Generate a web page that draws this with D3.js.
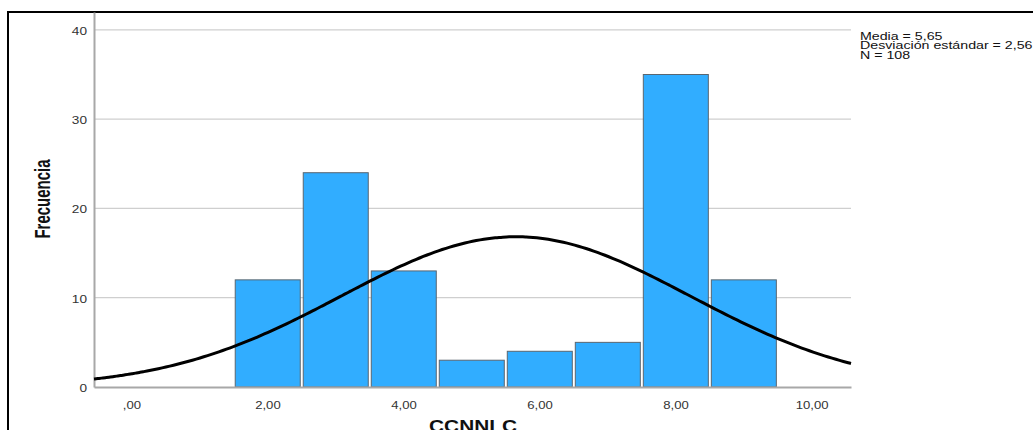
<!DOCTYPE html>
<html><head><meta charset="utf-8">
<script src="https://cdn.jsdelivr.net/npm/d3@7"></script>
<style>
html,body{margin:0;padding:0;background:#fff;}
svg{display:block;font-family:"Liberation Sans",Arial,sans-serif;}
</style></head>
<body>
<svg id="chart" width="1033" height="430"></svg>
<script>
// ---- data ----
const binCenters = [2, 3, 4, 5, 6, 7, 8, 9];
const counts = [12, 24, 13, 3, 4, 5, 35, 12];
const binWidth = 1;
const xTickValues = [0, 2, 4, 6, 8, 10];
const xTickLabels = [",00", "2,00", "4,00", "6,00", "8,00", "10,00"];
const yTickValues = [0, 10, 20, 30, 40];
const yTickLabels = ["0", "10", "20", "30", "40"];
const statsLines = ["Media = 5,65", "Desviación estándar = 2,56", "N = 108"];
const meanVal = 5.65, sdVal = 2.56, nVal = 108;
const xTitle = "CCNNLC", yTitle = "Frecuencia";

const svg = d3.select("#chart");
function stretch(sel, f) {
  sel.each(function () {
    const L = this.getComputedTextLength();
    d3.select(this).attr("textLength", L * f).attr("lengthAdjust", "spacingAndGlyphs");
  });
}

// outer frame
svg.append("rect").attr("x", 8).attr("y", 12).attr("width", 1040).attr("height", 440)
  .attr("fill", "none").attr("stroke", "#000").attr("stroke-width", 2);

const x = d3.scaleLinear().domain([-0.55, 10.58]).range([94, 851]);
const y = d3.scaleLinear().domain([0, 42]).range([387, 12]);

// gridlines
svg.append("g").selectAll("line").data(yTickValues.filter(d => d > 0)).join("line")
  .attr("x1", x.range()[0]).attr("x2", x.range()[1])
  .attr("y1", d => y(d)).attr("y2", d => y(d))
  .attr("stroke", "#cfcfcf").attr("stroke-width", 1.2);

// bars
svg.append("g").selectAll("rect").data(binCenters).join("rect")
  .attr("x", d => x(d - binWidth / 2) + 1.8)
  .attr("y", (d, i) => y(counts[i]))
  .attr("width", d => x(d + binWidth / 2) - x(d - binWidth / 2) - 3)
  .attr("height", (d, i) => y(0) - y(counts[i]))
  .attr("fill", "#31adff").attr("stroke", "#5a6670").attr("stroke-width", 1);

// axes
const xAxis = svg.append("g").attr("transform", `translate(0,${y(0)})`)
  .call(d3.axisBottom(x).tickValues(xTickValues).tickFormat((d, i) => xTickLabels[i]).tickSize(0).tickPadding(15));
xAxis.select(".domain").attr("stroke", "#a8a8a8").attr("stroke-width", 2);
xAxis.selectAll("text").attr("font-size", 10.5).attr("fill", "#333").attr("font-family", "Liberation Sans, Arial, sans-serif");

const yAxis = svg.append("g").attr("transform", `translate(${x.range()[0]},0)`)
  .call(d3.axisLeft(y).tickValues(yTickValues).tickFormat((d, i) => yTickLabels[i]).tickSize(0).tickPadding(7));
yAxis.select(".domain").attr("stroke", "#a8a8a8").attr("stroke-width", 2);
yAxis.selectAll("text").attr("font-size", 10.5).attr("fill", "#333").attr("dy", "0.42em").attr("font-family", "Liberation Sans, Arial, sans-serif");

// normal curve
const curvePts = d3.range(0, 201).map(k => {
  const xv = x.domain()[0] + (x.domain()[1] - x.domain()[0]) * k / 200;
  const z = (xv - meanVal) / sdVal;
  return [xv, nVal * binWidth / (sdVal * Math.sqrt(2 * Math.PI)) * Math.exp(-0.5 * z * z)];
});
svg.append("path").datum(curvePts)
  .attr("d", d3.line().x(d => x(d[0])).y(d => y(d[1])).curve(d3.curveBasis))
  .attr("fill", "none").attr("stroke", "#000").attr("stroke-width", 3);

// stats legend
const legend = svg.append("g").selectAll("text").data(statsLines).join("text")
  .attr("x", 860).attr("y", (d, i) => 39.5 + i * 9.5)
  .attr("font-size", 10).attr("fill", "#111").text(d => d);

// titles
const xt = svg.append("text").attr("x", 473).attr("y", 432).attr("text-anchor", "middle")
  .attr("font-size", 16).attr("font-weight", "bold").attr("fill", "#111").text(xTitle);
svg.append("text").attr("transform", "translate(50,199) scale(1.5,1) rotate(-90)").attr("text-anchor", "middle")
  .attr("font-size", 15).attr("font-weight", "bold").attr("fill", "#111").text(yTitle);

// emulate horizontal stretch of the original
stretch(xAxis.selectAll("text"), 1.25);
stretch(yAxis.selectAll("text"), 1.3);
stretch(legend, 1.42);
stretch(xt, 1.3);
</script>
</body></html>
